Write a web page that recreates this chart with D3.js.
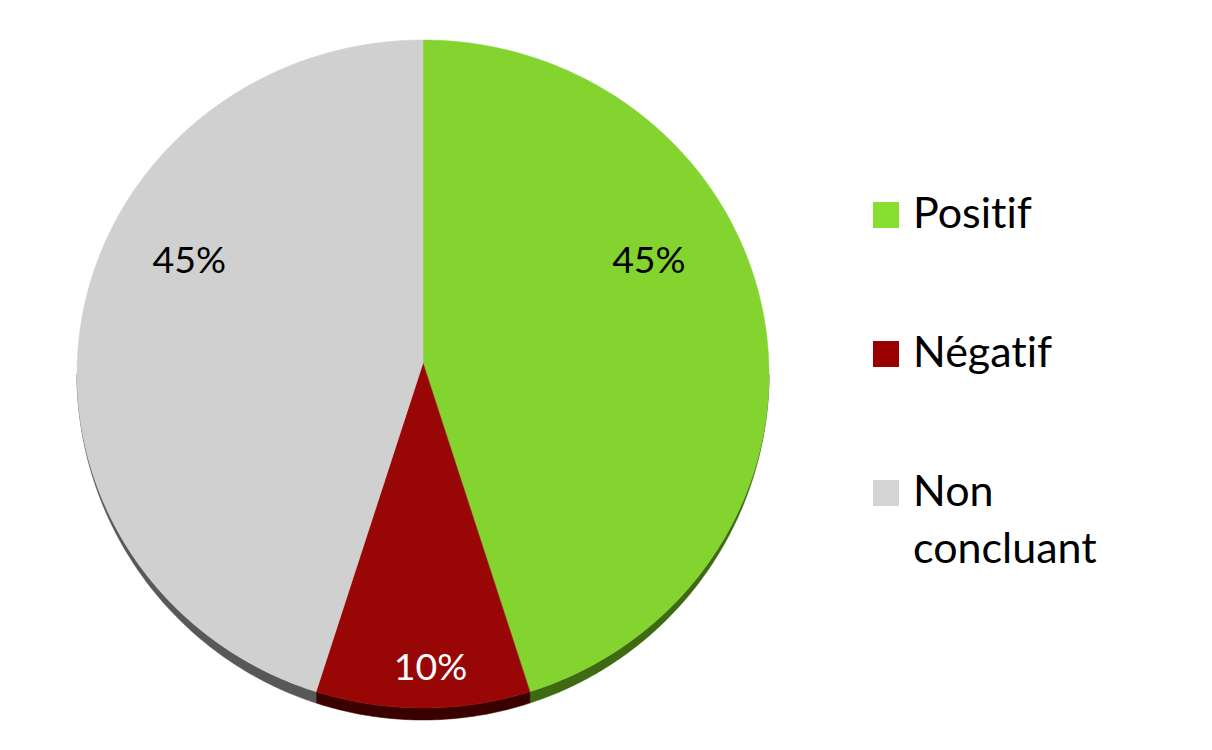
<!DOCTYPE html>
<html>
<head>
<meta charset="utf-8">
<script src="https://cdn.jsdelivr.net/npm/d3@7"></script>
<style>
  html, body { margin: 0; padding: 0; background: #ffffff; }
  svg { display: block; font-family: Lato, "Open Sans", sans-serif; font-variant-ligatures: none; font-feature-settings: "liga" 0, "clig" 0; }
</style>
</head>
<body>
<svg id="chart" width="1212" height="750"></svg>
<script>
// ---- data ----
const categories = ["Positif", "Négatif", "Non concluant"];
const values = [45, 10, 45];
const valueLabels = ["45%", "10%", "45%"];

// ---- style ----
const topColors  = ["#84d430", "#990606", "#d0d0d0"];
const sideColors = ["#3e6b12", "#3a0000", "#585858"];
const legendColors = ["#88df2f", "#990000", "#d4d4d4"];
const labelColors = ["#000000", "#ffffff", "#000000"];
// label placement: [fraction of slice angle, radius fraction]
const labelPlacement = [[0.385, 0.737], [0.46, 0.877], [0.61, 0.757]];

const W = 1212, H = 750;
const cx = 423, cy = 374, rx = 346, ry = 334, depth = 12;
const apex = [423, 363];

const svg = d3.select("#chart");
const pie = d3.pie().sort(null).value(d => d)(values);

const ell = (a, rY) => [cx + rx * Math.sin(a), cy - rY * Math.cos(a)];
const line = d3.line();

function arcPoints(a0, a1, rY) {
  const n = Math.max(2, Math.ceil(Math.abs(a1 - a0) / 0.01));
  return d3.range(n + 1).map(i => ell(a0 + (a1 - a0) * i / n, rY));
}

// side (visible lower rim) between PI/2 and 3PI/2
const gSide = svg.append("g");
pie.forEach((d, i) => {
  const a0 = Math.max(d.startAngle, Math.PI / 2);
  const a1 = Math.min(d.endAngle, 3 * Math.PI / 2);
  if (a1 <= a0) return;
  const pts = arcPoints(a0, a1, ry).concat(arcPoints(a1, a0, ry + depth));
  gSide.append("path")
    .attr("d", line(pts) + "Z")
    .attr("fill", sideColors[i])
    .attr("stroke", sideColors[i])
    .attr("stroke-width", 0.5);
});

// top faces
const gTop = svg.append("g");
pie.forEach((d, i) => {
  const pts = [apex].concat(arcPoints(d.startAngle, d.endAngle, ry));
  gTop.append("path")
    .attr("d", line(pts) + "Z")
    .attr("fill", topColors[i])
    .attr("stroke", topColors[i])
    .attr("stroke-width", 0.5);
});

// value labels
const gLab = svg.append("g");
pie.forEach((d, i) => {
  const [f, r] = labelPlacement[i];
  const a = d.startAngle + (d.endAngle - d.startAngle) * f;
  const x = cx + rx * r * Math.sin(a);
  const y = cy - ry * r * Math.cos(a);
  gLab.append("text")
    .attr("x", x)
    .attr("y", y)
    .attr("dy", "0.36em")
    .attr("text-anchor", "middle")
    .attr("font-size", 37.5)
    .attr("fill", labelColors[i])
    .text(valueLabels[i]);
});

// legend
const legend = svg.append("g").attr("transform", "translate(873,0)");
const legendY = d3.scalePoint().domain(categories).range([228, 506]);
categories.forEach((c, i) => {
  const base = legendY(c);
  const g = legend.append("g");
  g.append("rect")
    .attr("x", 0).attr("y", base - 26)
    .attr("width", 26).attr("height", 26)
    .attr("fill", legendColors[i]);
  const words = c.split(" ");
  const t = g.append("text")
    .attr("x", 40).attr("y", base)
    .attr("font-size", 43)
    .attr("fill", "#000");
  words.forEach((w, k) => {
    t.append("tspan").attr("x", 40).attr("dy", k === 0 ? 0 : 57).text(w);
  });
});
</script>
</body>
</html>
